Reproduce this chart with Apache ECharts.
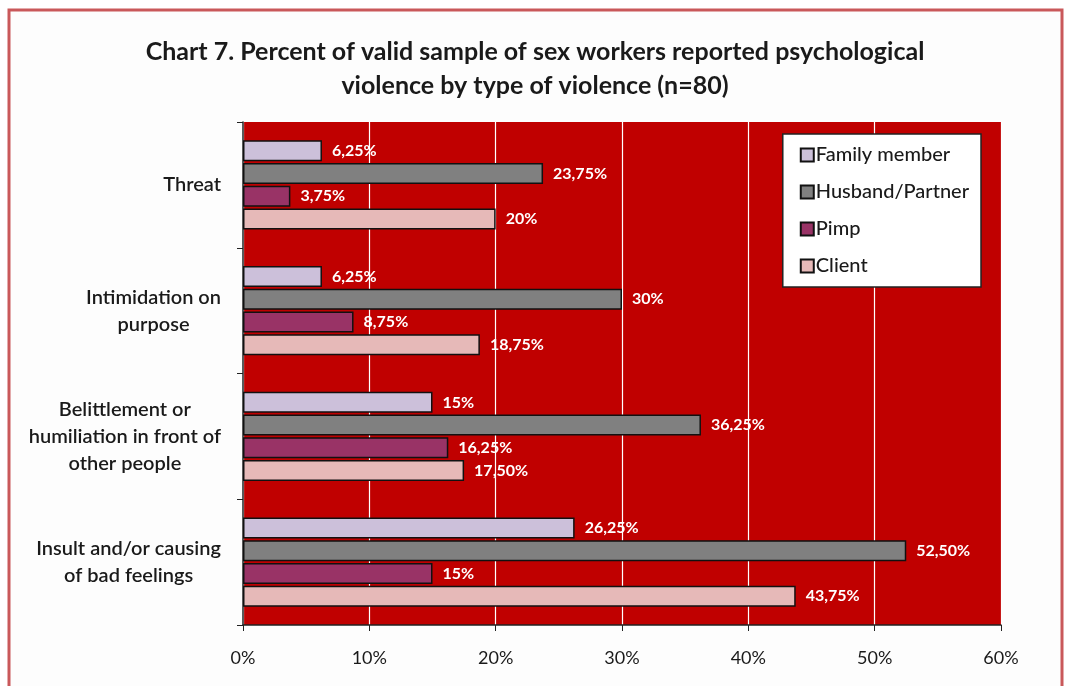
<!DOCTYPE html>
<html>
<head>
<meta charset="utf-8">
<script src="https://cdn.jsdelivr.net/npm/echarts@6/dist/echarts.min.js"></script>
<style>html,body{margin:0;padding:0;background:#fff;}#c{width:1070px;height:686px;}</style>
</head>
<body>
<div id="c"></div>
<script>
const categories = ['Threat', 'Intimidation on\npurpose', 'Belittlement or\nhumiliation in front of\nother people', 'Insult and/or causing\nof bad feelings'];
const seriesNames = ['Family member', 'Husband/Partner', 'Pimp', 'Client'];
const familyMember = [6.25, 6.25, 15, 26.25];
const husbandPartner = [23.75, 30, 36.25, 52.5];
const pimp = [3.75, 8.75, 16.25, 15];
const client = [20, 18.75, 17.5, 43.75];
const xTicks = [0, 10, 20, 30, 40, 50, 60];
const colors = ['#ccc0da', '#808080', '#993366', '#e6b9b8'];
const values = [familyMember, husbandPartner, pimp, client];

const font = 'Lato, "Open Sans", sans-serif';
const chart = echarts.init(document.getElementById('c'));
const fmt = v => (Math.round(v * 100) / 100).toString().replace('.', ',').replace(/,5$/, ',50') + '%';

chart.setOption({
  backgroundColor: '#ffffff',
  graphic: [{
    type: 'rect', shape: { x: 9, y: 10, width: 1053, height: 690 },
    style: { fill: '#fdfdfd', stroke: '#c9585a', lineWidth: 3 }, z: -10, silent: true
  }, {
    type: 'rect', shape: { x: 243, y: 122, width: 1070 - 69 - 243, height: 686 - 61 - 122 },
    style: { fill: '#c00000' }, z: -5, silent: true
  }],
  title: {
    text: 'Chart 7. Percent of valid sample of sex workers reported psychological\nviolence by type of violence (n=80)',
    left: 'center', top: 30,
    textStyle: { fontFamily: font, fontWeight: 'bold', fontSize: 25, color: '#1a1a1a', lineHeight: 34 }
  },
  legend: {
    orient: 'vertical', right: 89, top: 134,
    data: seriesNames,
    backgroundColor: '#ffffff', borderColor: '#222', borderWidth: 1.5,
    padding: [11, 12, 11, 17], itemGap: 17,
    itemWidth: 13, itemHeight: 13,
    textStyle: { fontFamily: font, fontSize: 20, color: '#1a1a1a', fontWeight: 500, padding: [0, 0, 0, -3] },
    icon: 'rect'
  },
  grid: { left: 243, right: 69, top: 122, bottom: 61 },
  xAxis: {
    type: 'value', min: 0, max: 60, interval: 10,
    axisLine: { show: true, lineStyle: { color: '#222', width: 1.5 } },
    axisTick: { show: true, length: 6, lineStyle: { color: '#222' } },
    splitLine: { show: true, lineStyle: { color: '#ffffff', width: 1.2 } },
    axisLabel: { formatter: v => xTicks.includes(v) ? v + '%' : '', fontFamily: font, fontSize: 18, color: '#1a1a1a', margin: 24 }
  },
  yAxis: {
    type: 'category', data: categories, inverse: true,
    axisLine: { show: true, lineStyle: { color: '#222', width: 1.5 } },
    axisTick: { show: true, length: 6, lineStyle: { color: '#222' } },
    splitArea: { show: false },
    axisLabel: {
      fontFamily: font, fontSize: 20, color: '#1a1a1a', margin: 22, align: 'right',
      formatter: v => v.split('\n').map(l => '{c|' + l + '}').join('\n'),
      rich: { c: { align: 'center', fontFamily: font, fontSize: 20, color: '#1a1a1a', fontWeight: 600, lineHeight: 27 } }
    }
  },
  series: seriesNames.map((name, i) => ({
    name, type: 'bar', data: values[i],
    barWidth: 21, barGap: '8%',
    itemStyle: { color: colors[i], borderColor: '#111', borderWidth: 1.5 },
    label: {
      show: true, position: 'right', distance: 10,
      formatter: p => fmt(p.value),
      color: '#ffffff', fontFamily: font, fontWeight: 'bold', fontSize: 16
    }
  })),
  animation: false
});
</script>
</body>
</html>
